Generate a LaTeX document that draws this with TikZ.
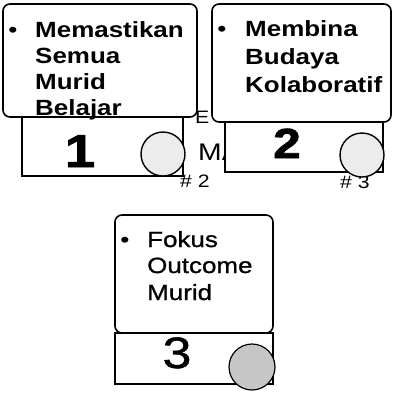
\documentclass[tikz,border=0pt]{standalone}
\usepackage{fontspec}
\setmainfont{Liberation Sans}[FakeStretch=1.18]
\newfontfamily\heavyfont{Liberation Sans Bold}[FakeStretch=1.18,FakeBold=2]
\newfontfamily\midfont{Liberation Sans}[FakeStretch=1.18,FakeBold=1]
\begin{document}
\begin{tikzpicture}[x=1pt,y=-1pt,
  lbl/.style={anchor=base west, inner sep=0pt, font=\fontsize{22}{26}\selectfont\bfseries},
  lblr/.style={anchor=base west, inner sep=0pt, font=\fontsize{22}{26}\selectfont\midfont},
  bul/.style={anchor=base, inner sep=0pt, font=\fontsize{22}{26}\selectfont},
  frag/.style={anchor=base west, inner sep=0pt, font=\fontsize{18}{18}\selectfont},
  panel/.style={draw, line width=1.6pt, fill=white, rounded corners=7pt},
  tab/.style={draw, line width=1.6pt, fill=white},
  seal/.style={draw, line width=1.4pt, fill=gray!15},
  sealdark/.style={draw, line width=1.2pt, fill=gray!45}]
\useasboundingbox (0,0) rectangle (393,392);
% background fragments
\node[frag] (fe) at (195,123) {E};
\node[frag, font=\fontsize{24}{24}\selectfont] (fm) at (198,160) {MA};
\node[frag] (f2) at (180,187) {\# 2};
\node[frag] (f3) at (340,188) {\# 3};
% box 1
\draw[panel] (3,4) rectangle (197,117);
\draw[tab] (22,117) rectangle (183,176);
\node[bul] (b1) at (13,37) {•};
\node[lbl] (t11) at (35,37) {Memastikan};
\node[lbl] (t12) at (35,63) {Semua};
\node[lbl] (t13) at (35,89) {Murid};
\node[lbl] (t14) at (35,115) {Belajar};
\node[anchor=base, inner sep=0pt, font=\fontsize{46}{46}\selectfont\heavyfont] (d1) at (80,167) {1};
\draw[seal] (163,154) circle (22);
% box 2
\draw[panel] (212,4) rectangle (391,122);
\draw[tab] (225,122) rectangle (383,172);
\node[bul] (b2) at (222,36) {•};
\node[lbl] (t21) at (245,36) {Membina};
\node[lbl] (t22) at (245,64) {Budaya};
\node[lbl] (t23) at (245,92) {Kolaboratif};
\node[anchor=base, inner sep=0pt, font=\fontsize{42}{42}\selectfont\heavyfont] (d2) at (287,158) {2};
\draw[seal] (362,155) circle (22);
% box 3
\draw[panel] (115,215) rectangle (273,333);
\draw[tab] (115,333) rectangle (273,384);
\node[bul] (b3) at (125,247) {•};
\node[lblr] (t31) at (147,247) {Fokus};
\node[lblr] (t32) at (147,273) {Outcome};
\node[lblr] (t33) at (147,300) {Murid};
\node[anchor=base, inner sep=0pt, font=\fontsize{44}{44}\selectfont\midfont] (d3) at (177,368) {3};
\draw[sealdark] (252,367) circle (23);
\end{tikzpicture}
\end{document}
